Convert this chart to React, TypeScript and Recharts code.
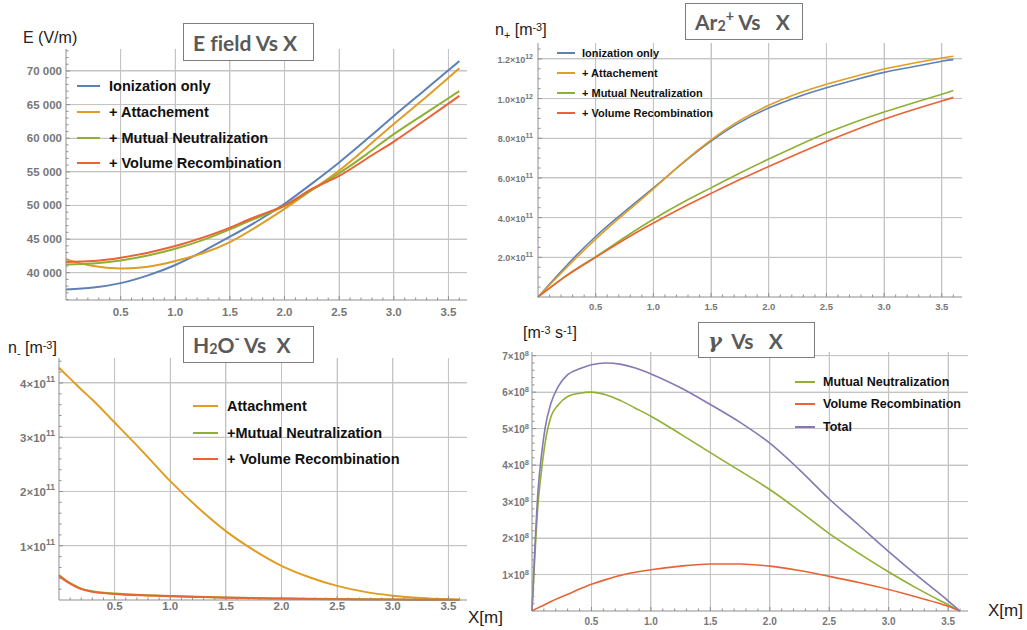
import React from 'react';
import { LineChart, Line, XAxis, YAxis, CartesianGrid } from 'recharts';

const BLUE = '#5e81b5';
const ORANGE = '#e19c24';
const GREEN = '#8fb032';
const RED = '#eb6235';
const PURPLE = '#8778b3';

const GRID = '#c4c4c4';
const AXIS = '#8f8f8f';
const TICK_TEXT = '#777';
const SANS = '"Liberation Sans", Arial, sans-serif';
const TITLE_FONT = 'Lato, "Open Sans", sans-serif';

// x axis (metres), shared by all four plots
const xMajor = [0.5, 1, 1.5, 2, 2.5, 3, 3.5];
const xMajorLabels = ['0.5', '1.0', '1.5', '2.0', '2.5', '3.0', '3.5'];
const xMinor = Array.from({ length: 36 }, (_, i) => (i + 1) / 10);

// ---- E field vs X
const eX = [0, 0.25, 0.5, 0.75, 1, 1.25, 1.5, 1.75, 2, 2.25, 2.5, 2.75, 3, 3.25, 3.5, 3.6];
const eIonization = [37500, 37800, 38450, 39600, 41150, 43150, 45350, 47650, 50250, 53250, 56400, 59800, 63300, 66700, 70100, 71500];
const eAttachment = [41980, 40990, 40640, 40890, 41730, 42900, 44560, 46900, 49500, 52300, 55200, 58600, 62100, 65500, 69000, 70400];
const eMutual = [41235, 41380, 41830, 42570, 43570, 44850, 46440, 48180, 49900, 52300, 54800, 57600, 60600, 63300, 65950, 67000];
const eVolume = [41580, 41730, 42230, 42980, 43960, 45210, 46700, 48420, 50000, 52450, 54400, 56950, 59500, 62300, 65140, 66300];
const eYMajor = [40000, 45000, 50000, 55000, 60000, 65000, 70000];
const eYLabels = ['40 000', '45 000', '50 000', '55 000', '60 000', '65 000', '70 000'];
const eYMinor = Array.from({ length: 38 }, (_, i) => 36000 + i * 1000);

// ---- Ar2+ density vs X (units of 1e11 m^-3)
const aX = [0, 0.25, 0.5, 0.75, 1, 1.25, 1.5, 1.75, 2, 2.25, 2.5, 2.75, 3, 3.25, 3.5, 3.6];
const aIonization = [0, 1.6, 3.05, 4.3, 5.5, 6.72, 7.85, 8.8, 9.52, 10.08, 10.54, 10.95, 11.32, 11.6, 11.88, 11.96];
const aAttachment = [0, 1.5, 2.92, 4.2, 5.45, 6.75, 7.92, 8.9, 9.66, 10.25, 10.72, 11.12, 11.49, 11.78, 12.04, 12.13];
const aMutual = [0, 1.1, 2.03, 3.0, 3.92, 4.75, 5.5, 6.25, 6.95, 7.62, 8.26, 8.82, 9.32, 9.78, 10.22, 10.41];
const aVolume = [0, 1.08, 2.0, 2.9, 3.73, 4.5, 5.22, 5.92, 6.58, 7.22, 7.84, 8.42, 8.96, 9.44, 9.88, 10.06];
const aYMajor = [2, 4, 6, 8, 10, 12];
const aYLabels = ['2.0×10^11', '4.0×10^11', '6.0×10^11', '8.0×10^11', '1.0×10^12', '1.2×10^12'];
const aYMinor = Array.from({ length: 25 }, (_, i) => (i + 1) / 2);

// ---- H2O- density vs X (units of 1e11 m^-3)
const hX = [0, 0.1, 0.2, 0.3, 0.5, 0.75, 1, 1.25, 1.5, 1.75, 2, 2.25, 2.5, 2.75, 3, 3.25, 3.5, 3.6];
const hAttachment = [4.28, 4.08, 3.88, 3.69, 3.27, 2.74, 2.19, 1.7, 1.27, 0.92, 0.63, 0.42, 0.26, 0.15, 0.08, 0.035, 0.012, 0.006];
const hMutual = [0.46, 0.31, 0.21, 0.16, 0.118, 0.09, 0.074, 0.06, 0.046, 0.036, 0.028, 0.022, 0.017, 0.013, 0.009, 0.006, 0.004, 0.003];
const hVolume = [0.44, 0.3, 0.2, 0.15, 0.112, 0.086, 0.07, 0.056, 0.043, 0.034, 0.026, 0.02, 0.015, 0.011, 0.008, 0.005, 0.003, 0.002];
const hYMajor = [1, 2, 3, 4];
const hYLabels = ['1×10^11', '2×10^11', '3×10^11', '4×10^11'];
const hYMinor = Array.from({ length: 22 }, (_, i) => ((i + 1) * 2) / 10);

// ---- recombination rate vs X (units of 1e8 m^-3 s^-1)
const gX = [0, 0.02, 0.05, 0.08, 0.11, 0.16, 0.22, 0.3, 0.4, 0.5, 0.62, 0.75, 0.87, 1, 1.25, 1.5, 1.75, 2, 2.25, 2.5, 2.75, 3, 3.25, 3.5, 3.6];
const gMutual = [0, 1.25, 2.9, 3.85, 4.6, 5.33, 5.65, 5.88, 5.97, 6.0, 5.93, 5.76, 5.56, 5.34, 4.85, 4.34, 3.84, 3.33, 2.74, 2.12, 1.58, 1.07, 0.6, 0.17, 0];
const gVolume = [0, 0.035, 0.085, 0.13, 0.18, 0.26, 0.35, 0.46, 0.6, 0.73, 0.86, 0.98, 1.06, 1.13, 1.23, 1.29, 1.29, 1.23, 1.11, 0.95, 0.78, 0.59, 0.37, 0.13, 0];
const gTotal = [0, 1.44, 3.27, 4.28, 5.01, 5.7, 6.15, 6.48, 6.64, 6.75, 6.8, 6.76, 6.66, 6.5, 6.12, 5.66, 5.17, 4.6, 3.87, 3.07, 2.35, 1.63, 0.94, 0.28, 0];
const gYMajor = [1, 2, 3, 4, 5, 6, 7];
const gYLabels = ['1×10^8', '2×10^8', '3×10^8', '4×10^8', '5×10^8', '6×10^8', '7×10^8'];
const gYMinor = Array.from({ length: 35 }, (_, i) => ((i + 1) * 2) / 10);

type Series = { key: string; name: string; color: string; values: number[] };

const eSeries: Series[] = [
  { key: 'ion', name: 'Ionization only', color: BLUE, values: eIonization },
  { key: 'att', name: '+ Attachement', color: ORANGE, values: eAttachment },
  { key: 'mn', name: '+ Mutual Neutralization', color: GREEN, values: eMutual },
  { key: 'vr', name: '+ Volume Recombination', color: RED, values: eVolume },
];
const aSeries: Series[] = [
  { key: 'ion', name: 'Ionization only', color: BLUE, values: aIonization },
  { key: 'att', name: '+ Attachement', color: ORANGE, values: aAttachment },
  { key: 'mn', name: '+ Mutual Neutralization', color: GREEN, values: aMutual },
  { key: 'vr', name: '+ Volume Recombination', color: RED, values: aVolume },
];
const hSeries: Series[] = [
  { key: 'att', name: 'Attachment', color: ORANGE, values: hAttachment },
  { key: 'mn', name: '+Mutual Neutralization', color: GREEN, values: hMutual },
  { key: 'vr', name: '+ Volume Recombination', color: RED, values: hVolume },
];
const gSeries: Series[] = [
  { key: 'mn', name: 'Mutual Neutralization', color: GREEN, values: gMutual },
  { key: 'vr', name: 'Volume Recombination', color: RED, values: gVolume },
  { key: 'tot', name: 'Total', color: PURPLE, values: gTotal },
];

const toRows = (xs: number[], series: Series[]) =>
  xs.map((x, i) => {
    const row: Record<string, number> = { x };
    series.forEach((s) => (row[s.key] = s.values[i]));
    return row;
  });

const isMajor = (majors: number[], v: number) => majors.findIndex((m) => Math.abs(m - v) < 1e-6);

type TickStyle = { size: number; supSize: number; dy: number; supDy: number; gap: number };

const TickText = ({ x, y, label, anchor, st }: any) => {
  const [base, exp] = String(label).split('^');
  return (
    <text x={x} y={y} textAnchor={anchor} fontSize={st.size} fontWeight={700} fill={TICK_TEXT} fontFamily={SANS}>
      {base}
      {exp && (
        <tspan dy={st.supDy} fontSize={st.supSize}>
          {exp}
        </tspan>
      )}
    </text>
  );
};

const makeXTick = (st: TickStyle) => (props: any) => {
  const { x, y, payload } = props;
  const idx = isMajor(xMajor, payload.value);
  return (
    <g>
      <line x1={x} x2={x} y1={y} y2={y - (idx >= 0 ? 4 : 2.5)} stroke={AXIS} />
      {idx >= 0 && <TickText x={x} y={y + st.dy} label={xMajorLabels[idx]} anchor="middle" st={st} />}
    </g>
  );
};

const makeYTick = (majors: number[], labels: string[], st: TickStyle) => (props: any) => {
  const { x, y, payload } = props;
  const idx = isMajor(majors, payload.value);
  return (
    <g>
      <line x1={x} x2={x + (idx >= 0 ? 4 : 2.5)} y1={y} y2={y} stroke={AXIS} />
      {idx >= 0 && <TickText x={x - st.gap} y={y + st.dy} label={labels[idx]} anchor="end" st={st} />}
    </g>
  );
};

type PanelProps = {
  left: number;
  top: number;
  width: number;
  height: number;
  margin: { top: number; right: number; bottom: number; left: number };
  yWidth: number;
  xHeight: number;
  xMax: number;
  yDomain: [number, number];
  yMajor: number[];
  yMinor: number[];
  yLabels: string[];
  xStyle: TickStyle;
  yStyle: TickStyle;
  xs: number[];
  series: Series[];
  strokeWidth: number;
  curve: 'natural' | 'monotone';
};

const Panel = (p: PanelProps) => {
  const [y0, y1] = p.yDomain;
  // grid at the labelled values; also drawn as two-point series so it sits under the curves
  const gridLines = [
    ...xMajor.map((v) => [{ x: v, g: y0 }, { x: v, g: y1 }]),
    ...p.yMajor.map((v) => [{ x: 0, g: v }, { x: p.xMax, g: v }]),
  ];
  return (
    <div style={{ position: 'absolute', left: p.left, top: p.top }}>
      <LineChart width={p.width} height={p.height} data={toRows(p.xs, p.series)} margin={p.margin}>
        <CartesianGrid
          stroke={GRID}
          strokeWidth={1}
          shapeRendering="crispEdges"
          verticalValues={xMajor}
          horizontalValues={p.yMajor}
        />
        <XAxis
          type="number"
          dataKey="x"
          domain={[0, p.xMax]}
          ticks={xMinor}
          interval={0}
          height={p.xHeight}
          tickSize={0}
          tickMargin={0}
          tickLine={false}
          axisLine={{ stroke: AXIS }}
          tick={makeXTick(p.xStyle)}
        />
        <YAxis
          type="number"
          domain={p.yDomain}
          ticks={p.yMinor}
          interval={0}
          width={p.yWidth}
          tickSize={0}
          tickMargin={0}
          tickLine={false}
          axisLine={{ stroke: AXIS }}
          tick={makeYTick(p.yMajor, p.yLabels, p.yStyle)}
        />
        {gridLines.map((pts, i) => (
          <Line
            key={`grid${i}`}
            data={pts}
            dataKey="g"
            type="linear"
            stroke={GRID}
            strokeWidth={1}
            dot={false}
            activeDot={false}
            legendType="none"
            isAnimationActive={false}
          />
        ))}
        {p.series.map((s) => (
          <Line
            key={s.key}
            dataKey={s.key}
            name={s.name}
            type={p.curve}
            stroke={s.color}
            strokeWidth={p.strokeWidth}
            dot={false}
            isAnimationActive={false}
          />
        ))}
      </LineChart>
    </div>
  );
};

const LegendBlock = ({ series, left, top, rowGap, lineLen, gap, size }: any) => (
  <>
    {series.map((s: Series, i: number) => (
      <div
        key={s.key}
        style={{
          position: 'absolute',
          left,
          top: top + i * rowGap - size * 0.6,
          height: size * 1.2,
          display: 'flex',
          alignItems: 'center',
          fontFamily: SANS,
          fontWeight: 700,
          fontSize: size,
          color: '#111',
          whiteSpace: 'pre',
        }}
      >
        <span style={{ display: 'inline-block', width: lineLen, height: 2, background: s.color, marginRight: gap }} />
        {s.name}
      </div>
    ))}
  </>
);

const TitleBox = ({ left, top, width, height, children }: any) => (
  <div
    style={{
      position: 'absolute',
      left,
      top,
      width,
      height,
      boxSizing: 'border-box',
      border: '1.5px solid #7d7d7d',
      background: '#fff',
      display: 'flex',
      alignItems: 'center',
      paddingLeft: 9,
      fontFamily: TITLE_FONT,
      fontWeight: 700,
      fontSize: 21,
      fontVariantLigatures: 'none',
      color: '#5a5a5a',
      whiteSpace: 'pre',
    }}
  >
    {children}
  </div>
);

const AxisTitle = ({ left, cy, size = 16, children }: any) => (
  <div
    style={{
      position: 'absolute',
      left,
      top: cy - size * 0.6,
      fontSize: size,
      lineHeight: `${size * 1.2}px`,
      fontFamily: SANS,
      color: '#222',
      whiteSpace: 'pre',
    }}
  >
    {children}
  </div>
);

const Sub = ({ children }: any) => (
  <span style={{ fontSize: '0.68em', position: 'relative', top: '0.3em' }}>{children}</span>
);
const Sup = ({ children }: any) => (
  <span style={{ fontSize: '0.68em', position: 'relative', top: '-0.45em' }}>{children}</span>
);

export default function App() {
  return (
    <div style={{ position: 'absolute', left: 0, top: 0, width: 1027, height: 630, background: '#fff' }}>
      <Panel
        left={0}
        top={0}
        width={480}
        height={320}
        margin={{ top: 49, right: 13, bottom: 0, left: 0 }}
        yWidth={66}
        xHeight={20}
        xMax={3.67}
        yDomain={[35940, 73270]}
        yMajor={eYMajor}
        yMinor={eYMinor}
        yLabels={eYLabels}
        xStyle={{ size: 11.5, supSize: 8, dy: 16, supDy: -4, gap: 4 }}
        yStyle={{ size: 11.5, supSize: 8, dy: 4, supDy: -4, gap: 4 }}
        xs={eX}
        series={eSeries}
        strokeWidth={2}
        curve="natural"
      />
      <Panel
        left={480}
        top={0}
        width={547}
        height={320}
        margin={{ top: 43, right: 65, bottom: 0, left: 0 }}
        yWidth={58}
        xHeight={23}
        xMax={3.675}
        yDomain={[0, 12.8]}
        yMajor={aYMajor}
        yMinor={aYMinor}
        yLabels={aYLabels}
        xStyle={{ size: 9.5, supSize: 7, dy: 12.5, supDy: -4, gap: 5 }}
        yStyle={{ size: 9, supSize: 7, dy: 4, supDy: -4, gap: 5 }}
        xs={aX}
        series={aSeries}
        strokeWidth={1.6}
        curve="natural"
      />
      <Panel
        left={0}
        top={320}
        width={480}
        height={310}
        margin={{ top: 38, right: 13, bottom: 0, left: 0 }}
        yWidth={59}
        xHeight={30}
        xMax={3.667}
        yDomain={[0, 4.46]}
        yMajor={hYMajor}
        yMinor={hYMinor}
        yLabels={hYLabels}
        xStyle={{ size: 11.5, supSize: 8.5, dy: 10, supDy: -6, gap: 4 }}
        yStyle={{ size: 11.5, supSize: 8.5, dy: 5, supDy: -6, gap: 4 }}
        xs={hX}
        series={hSeries}
        strokeWidth={2}
        curve="monotone"
      />
      <Panel
        left={480}
        top={320}
        width={547}
        height={310}
        margin={{ top: 32, right: 59, bottom: 0, left: 0 }}
        yWidth={52}
        xHeight={19}
        xMax={3.667}
        yDomain={[0, 7.1]}
        yMajor={gYMajor}
        yMinor={gYMinor}
        yLabels={gYLabels}
        xStyle={{ size: 10, supSize: 7.5, dy: 14, supDy: -4, gap: 3 }}
        yStyle={{ size: 10, supSize: 7.5, dy: 4, supDy: -4, gap: 3 }}
        xs={gX}
        series={gSeries}
        strokeWidth={1.6}
        curve="monotone"
      />

      <TitleBox left={183} top={23} width={131} height={38}>
        E field Vs X
      </TitleBox>
      <TitleBox left={685} top={3} width={118} height={37}>
        Ar<Sub>2</Sub>
        <Sup>+</Sup> Vs   X
      </TitleBox>
      <TitleBox left={183} top={326} width={131} height={37}>
        H<Sub>2</Sub>O<Sup>-</Sup> Vs  X
      </TitleBox>
      <TitleBox left={698} top={322} width={117} height={36}>
        <i style={{ fontFamily: '"DejaVu Serif", serif' }}>γ</i>  Vs   X
      </TitleBox>

      <AxisTitle left={23} cy={38}>
        E (V/m)
      </AxisTitle>
      <AxisTitle left={495} cy={30}>
        n<Sub>+</Sub> [m<Sup>-3</Sup>]
      </AxisTitle>
      <AxisTitle left={8} cy={348}>
        n<Sub>-</Sub> [m<Sup>-3</Sup>]
      </AxisTitle>
      <AxisTitle left={523} cy={333}>
        [m<Sup>-3</Sup> s<Sup>-1</Sup>]
      </AxisTitle>
      <AxisTitle left={468} cy={618} size={17}>
        X[m]
      </AxisTitle>
      <AxisTitle left={988} cy={611} size={17}>
        X[m]
      </AxisTitle>

      <LegendBlock series={eSeries} left={77} top={86} rowGap={25.8} lineLen={23} gap={9} size={14.5} />
      <LegendBlock series={aSeries} left={557} top={53.3} rowGap={20} lineLen={18} gap={7} size={11} />
      <LegendBlock series={hSeries} left={193} top={406} rowGap={26.7} lineLen={25} gap={9} size={14.5} />
      <LegendBlock series={gSeries} left={795} top={381.7} rowGap={22.5} lineLen={20} gap={8} size={12.5} />
    </div>
  );
}
